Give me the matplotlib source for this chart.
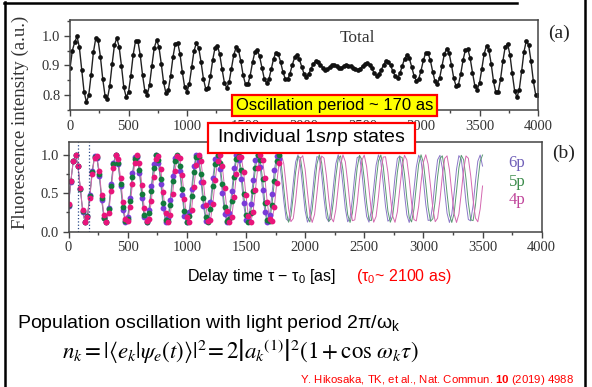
import numpy as np
import matplotlib
matplotlib.use("Agg")
import matplotlib.pyplot as plt
from matplotlib.patches import Rectangle
from matplotlib.lines import Line2D
from matplotlib.ticker import MultipleLocator

plt.rcParams['font.family'] = ['Liberation Serif', 'DejaVu Serif']
plt.rcParams['mathtext.fontset'] = 'custom'
plt.rcParams['mathtext.rm'] = 'Liberation Sans'
plt.rcParams['mathtext.it'] = 'Liberation Sans:italic'
plt.rcParams['mathtext.bf'] = 'Liberation Sans:bold'
SANS = ['Liberation Sans', 'DejaVu Sans']

# delay grid (as), one reading every 20 as
t_total = np.arange(0, 4001, 20)
t_states = np.arange(0, 3501, 20)
measured_until = 1780

# (a) total fluorescence
total = [
    0.890, 0.950, 0.978, 0.998, 0.961, 0.885, 0.812, 0.777, 0.799, 0.867,
    0.944, 0.991, 0.985, 0.929, 0.854, 0.797, 0.788, 0.832, 0.904, 0.969,
    0.992, 0.963, 0.898, 0.826, 0.794, 0.809, 0.866, 0.936, 0.982, 0.982,
    0.936, 0.868, 0.814, 0.801, 0.835, 0.899, 0.959, 0.985, 0.963, 0.906,
    0.843, 0.807, 0.816, 0.865, 0.928, 0.973, 0.977, 0.939, 0.878, 0.827,
    0.811, 0.839, 0.894, 0.949, 0.975, 0.960, 0.912, 0.856, 0.821, 0.825,
    0.864, 0.919, 0.960, 0.967, 0.937, 0.887, 0.841, 0.825, 0.844, 0.889,
    0.936, 0.961, 0.952, 0.914, 0.867, 0.836, 0.836, 0.866, 0.910, 0.945,
    0.953, 0.931, 0.893, 0.856, 0.841, 0.854, 0.887, 0.923, 0.943, 0.938,
    0.912, 0.878, 0.855, 0.853, 0.872, 0.902, 0.927, 0.934, 0.921, 0.896,
    0.872, 0.862, 0.871, 0.889, 0.906, 0.914, 0.912, 0.900, 0.893, 0.886,
    0.887, 0.895, 0.902, 0.903, 0.897, 0.891, 0.893, 0.899, 0.901, 0.898,
    0.897, 0.892, 0.887, 0.886, 0.889, 0.898, 0.905, 0.909, 0.903, 0.890,
    0.874, 0.866, 0.871, 0.885, 0.902, 0.914, 0.913, 0.900, 0.880, 0.864,
    0.859, 0.873, 0.899, 0.923, 0.935, 0.924, 0.896, 0.866, 0.849, 0.854,
    0.882, 0.917, 0.942, 0.942, 0.917, 0.879, 0.846, 0.838, 0.859, 0.899,
    0.939, 0.957, 0.942, 0.902, 0.857, 0.830, 0.835, 0.872, 0.919, 0.953,
    0.955, 0.925, 0.876, 0.832, 0.818, 0.841, 0.889, 0.940, 0.966, 0.952,
    0.905, 0.846, 0.809, 0.811, 0.854, 0.915, 0.963, 0.973, 0.936, 0.873,
    0.815, 0.793, 0.819, 0.880, 0.946, 0.983, 0.969, 0.915, 0.848, 0.802,
    0.801,
]

# (b) individual 1snp states
state_4p = [
    0.355, 0.663, 0.920, 0.997, 0.857, 0.569, 0.276, 0.125, 0.190, 0.440,
    0.749, 0.964, 0.978, 0.784, 0.478, 0.213, 0.121, 0.248, 0.530, 0.828,
    0.992, 0.941, 0.700, 0.390, 0.164, 0.136, 0.318, 0.622, 0.894, 1.000,
    0.887, 0.611, 0.310, 0.133, 0.169, 0.400, 0.710, 0.946, 0.989, 0.819,
    0.519, 0.240, 0.120, 0.219, 0.488, 0.793, 0.981, 0.960, 0.740, 0.430,
    0.185, 0.127, 0.285, 0.580, 0.865, 0.998, 0.914, 0.652, 0.345, 0.145,
    0.152, 0.361, 0.670, 0.924, 0.996, 0.852, 0.562, 0.270, 0.124, 0.194,
    0.447, 0.756, 0.967, 0.976, 0.777, 0.471, 0.208, 0.121, 0.253, 0.537,
    0.833, 0.993, 0.937, 0.693, 0.383, 0.161, 0.138, 0.325, 0.629, 0.898,
    1.000, 0.882, 0.604, 0.304, 0.131, 0.172, 0.407, 0.717, 0.949, 0.988,
    0.813, 0.512, 0.235, 0.120, 0.224, 0.495, 0.799, 0.983, 0.957, 0.733,
    0.423, 0.181, 0.128, 0.290, 0.587, 0.870, 0.999, 0.909, 0.646, 0.339,
    0.143, 0.154, 0.368, 0.677, 0.928, 0.996, 0.846, 0.554, 0.265, 0.123,
    0.198, 0.454, 0.762, 0.970, 0.974, 0.771, 0.464, 0.204, 0.122, 0.258,
    0.545, 0.839, 0.994, 0.933, 0.687, 0.377, 0.158, 0.140, 0.331, 0.636,
    0.903, 1.000, 0.877, 0.597, 0.298, 0.130, 0.176, 0.413, 0.724, 0.952,
    0.986, 0.807, 0.505, 0.230, 0.120, 0.229, 0.502, 0.805, 0.985, 0.954,
    0.726, 0.416, 0.177, 0.129, 0.296, 0.594,
]
state_5p = [
    0.345, 0.656, 0.918, 0.997, 0.853, 0.560, 0.266, 0.123, 0.202, 0.464,
    0.775, 0.976, 0.965, 0.747, 0.433, 0.184, 0.127, 0.291, 0.592, 0.877,
    1.000, 0.898, 0.624, 0.317, 0.135, 0.169, 0.403, 0.717, 0.951, 0.986,
    0.803, 0.496, 0.222, 0.120, 0.243, 0.528, 0.829, 0.993, 0.936, 0.687,
    0.373, 0.155, 0.144, 0.345, 0.655, 0.918, 0.997, 0.854, 0.560, 0.266,
    0.123, 0.202, 0.464, 0.775, 0.976, 0.965, 0.747, 0.433, 0.185, 0.127,
    0.291, 0.592, 0.877, 1.000, 0.898, 0.624, 0.317, 0.135, 0.169, 0.403,
    0.717, 0.951, 0.986, 0.803, 0.496, 0.222, 0.120, 0.243, 0.528, 0.829,
    0.993, 0.936, 0.687, 0.373, 0.155, 0.144, 0.345, 0.655, 0.918, 0.997,
    0.854, 0.560, 0.266, 0.123, 0.202, 0.464, 0.775, 0.976, 0.965, 0.747,
    0.433, 0.185, 0.127, 0.291, 0.592, 0.877, 1.000, 0.898, 0.624, 0.317,
    0.135, 0.169, 0.403, 0.717, 0.951, 0.986, 0.803, 0.496, 0.222, 0.120,
    0.243, 0.528, 0.829, 0.993, 0.936, 0.687, 0.373, 0.155, 0.144, 0.345,
    0.655, 0.918, 0.997, 0.854, 0.560, 0.266, 0.123, 0.202, 0.464, 0.775,
    0.976, 0.965, 0.747, 0.433, 0.185, 0.127, 0.291, 0.592, 0.877, 1.000,
    0.898, 0.624, 0.317, 0.135, 0.169, 0.403, 0.717, 0.951, 0.986, 0.803,
    0.496, 0.222, 0.120, 0.243, 0.528, 0.829, 0.993, 0.936, 0.687, 0.373,
    0.155, 0.144, 0.345, 0.655, 0.918, 0.997,
]
state_6p = [
    0.340, 0.652, 0.917, 0.997, 0.852, 0.556, 0.262, 0.122, 0.208, 0.475,
    0.787, 0.981, 0.958, 0.729, 0.413, 0.173, 0.132, 0.313, 0.620, 0.897,
    1.000, 0.875, 0.589, 0.287, 0.126, 0.189, 0.444, 0.758, 0.971, 0.971,
    0.758, 0.444, 0.189, 0.126, 0.287, 0.589, 0.875, 1.000, 0.897, 0.620,
    0.313, 0.132, 0.173, 0.413, 0.729, 0.958, 0.981, 0.787, 0.475, 0.208,
    0.122, 0.262, 0.556, 0.852, 0.997, 0.917, 0.652, 0.340, 0.141, 0.159,
    0.383, 0.699, 0.943, 0.989, 0.814, 0.508, 0.228, 0.120, 0.239, 0.523,
    0.827, 0.993, 0.935, 0.684, 0.369, 0.153, 0.146, 0.354, 0.668, 0.926,
    0.995, 0.840, 0.540, 0.251, 0.121, 0.218, 0.491, 0.801, 0.985, 0.951,
    0.714, 0.398, 0.166, 0.137, 0.326, 0.637, 0.907, 0.999, 0.864, 0.572,
    0.274, 0.124, 0.198, 0.460, 0.773, 0.976, 0.965, 0.744, 0.429, 0.181,
    0.129, 0.299, 0.604, 0.886, 1.000, 0.887, 0.605, 0.300, 0.129, 0.181,
    0.428, 0.743, 0.964, 0.977, 0.774, 0.461, 0.199, 0.124, 0.273, 0.571,
    0.863, 0.999, 0.908, 0.638, 0.328, 0.137, 0.165, 0.397, 0.713, 0.950,
    0.986, 0.802, 0.494, 0.219, 0.120, 0.249, 0.538, 0.839, 0.995, 0.927,
    0.670, 0.355, 0.147, 0.152, 0.368, 0.683, 0.934, 0.993, 0.828, 0.525,
    0.240, 0.120, 0.227, 0.506, 0.813, 0.989, 0.944, 0.700, 0.384, 0.159,
    0.141, 0.339, 0.651, 0.916, 0.997, 0.853,
]
state_labels = ['6p', '5p', '4p']
guide_delays = [78, 171]

W, H = 592, 387
fig = plt.figure(figsize=(W / 100, H / 100), dpi=100)


def fx(px):
    return px / W


def fy(py):
    return 1 - py / H


def style(ax):
    for s in ax.spines.values():
        s.set_color('#444444')
        s.set_linewidth(1.1)
    ax.tick_params(which='both', direction='out', color='#444444', width=1,
                   labelsize=10.5, labelcolor='#333333', pad=3)
    ax.tick_params(which='major', length=4)
    ax.tick_params(which='minor', length=2.5)
    ax.set_xlim(0, 4000)
    ax.xaxis.set_major_locator(MultipleLocator(500))
    ax.xaxis.set_minor_locator(MultipleLocator(250))


# (a) total
ax1 = fig.add_axes([fx(70), fy(110), fx(538) - fx(70), fy(20) - fy(110)])
style(ax1)
ax1.plot(t_total, total, '-', color='#222222', lw=1.0)
ax1.plot(t_total, total, 'o', color='#111111', ms=3.4, mew=0)
ax1.set_ylim(0.75, 1.053)
ax1.yaxis.set_major_locator(MultipleLocator(0.1))
ax1.yaxis.set_minor_locator(MultipleLocator(0.05))
ax1.yaxis.set_major_formatter(lambda v, p: f"{v:.1f}")
ax1.text(0.615, 0.80, 'Total', transform=ax1.transAxes, ha='center',
         va='center', fontsize=12.5, color='#333333')

# (b) states
ax2 = fig.add_axes([fx(68.5), fy(231.7), fx(541.7) - fx(68.5), fy(141.7) - fy(231.7)])
style(ax2)
ax2.set_ylim(0, 1.17)
ax2.yaxis.set_major_locator(MultipleLocator(0.5))
ax2.yaxis.set_minor_locator(MultipleLocator(0.25))
ax2.yaxis.set_major_formatter(lambda v, p: f"{v:.1f}")

series = [(state_6p, '#7a3bd8', '#8c78c8'),
          (state_5p, '#127a3c', '#5a9a72'),
          (state_4p, '#e8157a', '#d468b0')]
measured = t_states <= measured_until
for vals, dot_c, line_c in series:
    ax2.plot(t_states, vals, '-', color=line_c, lw=0.7)
for vals, dot_c, line_c in series:
    v = np.asarray(vals)
    ax2.plot(t_states[measured], v[measured], 'o', color=dot_c, ms=4.2, mew=0)
for d in guide_delays:
    ax2.axvline(d, color='#2a4a8a', ls=':', lw=0.9)

label_colors = ['#7060b8', '#3c8c4c', '#c0449a']
for lab, col, py in zip(state_labels, label_colors, [163, 182, 200]):
    fig.text(fx(517), fy(py), lab, color=col, fontsize=12, ha='center', va='center')

fig.text(fx(559), fy(33), '(a)', fontsize=14, ha='center', va='center', color='#222222')
fig.text(fx(564), fy(153), '(b)', fontsize=14, ha='center', va='center', color='#222222')
fig.text(fx(20), fy(122), 'Fluorescence intensity (a.u.)', rotation=90,
         ha='center', va='center', fontsize=13.5, color='#333333')

# annotation boxes
fig.add_artist(Rectangle((fx(232), fy(116)), fx(437) - fx(232), fy(95) - fy(116),
                         transform=fig.transFigure, fc='#ffff00', ec='#ff0000',
                         lw=1.6, zorder=10))
fig.text(fx(334.5), fy(105.5), 'Oscillation period ~ 170 as', family=SANS,
         fontsize=12, ha='center', va='center', zorder=11)
fig.add_artist(Rectangle((fx(208), fy(153)), fx(415) - fx(208), fy(123) - fy(153),
                         transform=fig.transFigure, fc='white', ec='#ff0000',
                         lw=1.6, zorder=10))
fig.text(fx(311.5), fy(138), r'Individual 1s$\mathit{n}$p states', family=SANS,
         fontsize=14, ha='center', va='center', zorder=11)

# slide texts
fig.text(fx(187), fy(277), 'Delay time $\\mathrm{\\tau}$ \u2212 $\\mathrm{\\tau}_0$ [as]',
         family=SANS, fontsize=11.5, va='center')
fig.text(fx(356), fy(277), r'($\mathrm{\tau}_0$~ 2100 as)', family=SANS,
         fontsize=11.5, va='center', color='#ff0000')
fig.text(fx(17), fy(323),
         r'Population oscillation with light period 2$\mathrm{\pi}$/$\mathrm{\omega}_\mathrm{k}$',
         family=SANS, fontsize=14, va='center')
fig.text(fx(62), fy(352),
         r'$n_k = |\langle e_k|\psi_e(t)\rangle|^2\!= 2\left|a_k{}^{(1)}\right|^2(1 + \cos\,\omega_k\tau)$',
         math_fontfamily='stix', fontsize=16.5, va='center')
fig.text(fx(300), fy(380), r'Y. Hikosaka, TK, et al., Nat. Commun. $\mathbf{10}$ (2019) 4988',
         family=SANS, fontsize=8.2, va='center', color='#ff0000')

# slide frame
frame = dict(color='black', lw=1.8, transform=fig.transFigure)
fig.add_artist(Line2D([fx(5), fx(5)], [0, fy(2)], **frame))
fig.add_artist(Line2D([fx(4), fx(517)], [fy(3), fy(3)], **frame))
fig.add_artist(Line2D([fx(585), fx(585)], [0, 1], **frame))

fig.savefig('out.png', dpi=100)
